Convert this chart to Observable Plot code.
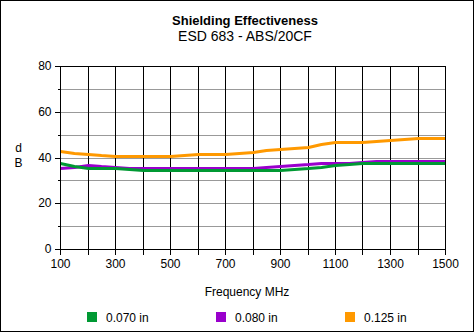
<!DOCTYPE html>
<html><head><meta charset="utf-8">
<script src="https://cdn.jsdelivr.net/npm/d3@7"></script>
<script src="https://cdn.jsdelivr.net/npm/@observablehq/plot@0.6"></script>
<style>
body{margin:0;background:#fff;}
#chart{position:relative;width:475px;height:333px;}
</style></head><body><div id="chart"></div>
<script>
const freqs = [100,150,200,250,300,350,400,450,500,550,600,650,700,750,800,850,900,950,1000,1050,1100,1150,1200,1250,1300,1350,1400,1450,1500];
const se070 = [37.5,36.5,35.6,35.3,35.2,34.8,34.4,34.4,34.4,34.4,34.4,34.4,34.4,34.4,34.4,34.4,34.4,34.8,35.3,35.9,36.6,37.0,37.5,37.5,37.5,37.5,37.5,37.5,37.5];
const se080 = [35.3,35.8,36.7,36.3,35.8,35.3,35.3,35.3,35.3,35.3,35.3,35.3,35.3,35.3,35.3,35.8,36.4,36.9,37.3,37.6,37.6,37.6,38.0,38.5,38.5,38.5,38.5,38.5,38.5];
const se125 = [42.7,42.0,41.5,41.0,40.7,40.7,40.7,40.7,40.7,41.0,41.4,41.4,41.4,41.8,42.4,43.1,43.6,44.1,44.7,45.8,46.6,46.6,46.8,47.3,47.7,48.2,48.5,48.5,48.5];
const seriesNames = ["0.070 in","0.080 in","0.125 in"];
const seriesColors = ["#009933","#9900cc","#ff9900"];
const yTickLabels = [0,20,40,60,80];
const yMinorTicks = [10,30,50,70];
const yGrid = [10,20,30,40,50,60,70];
const xTicksAll = [100,200,300,400,500,600,700,800,900,1000,1100,1200,1300,1400,1500];
const xTickLabels = [100,300,500,700,900,1100,1300,1500];
const xGrid = [200,300,400,500,600,700,800,900,1000,1100,1200,1300,1400];
const titleText = "Shielding Effectiveness";
const subtitleText = "ESD 683 - ABS/20CF";
const xLabelText = "Frequency MHz";
const yLabelChars = ["d","B"];

const seriesValues = [se070, se080, se125];
const rows = [];
seriesValues.forEach((vals, s) => vals.forEach((v, i) => rows.push({series: seriesNames[s], f: freqs[i], v})));
const drawOrder = [2, 1, 0];

const font = "Arial, 'Liberation Sans', sans-serif";
const chart = Plot.plot({
  width: 475, height: 333,
  marginLeft: 60, marginRight: 30, marginTop: 66, marginBottom: 84,
  x: {domain: [100, 1500], round: true},
  y: {domain: [0, 80], round: true},
  style: {fontFamily: font, fontSize: "12px", background: "white", color: "black", overflow: "visible"},
  marks: [
    Plot.ruleY(yGrid, {stroke: "#999999", strokeWidth: 1}),
    Plot.ruleX(xGrid, {stroke: "black", strokeWidth: 1}),
    ...drawOrder.map(s => Plot.line(rows.filter(r => r.series === seriesNames[s]), {x: "f", y: "v", stroke: seriesColors[s], strokeWidth: 3, strokeLinejoin: "miter", strokeLinecap: "butt"})),
    Plot.frame({stroke: "black", strokeWidth: 1}),
    Plot.axisY({ticks: yTickLabels, tickSize: 5, tickPadding: 4, label: null, fontSize: 12, stroke: "black"}),
    Plot.axisY({ticks: yMinorTicks, tickSize: 2, tickFormat: () => "", label: null, stroke: "black"}),
    Plot.axisX({ticks: xTicksAll, tickSize: 6, tickPadding: 4, label: null, fontSize: 12, stroke: "black",
      tickFormat: d => xTickLabels.includes(d) ? String(d) : ""})
  ]
});
document.getElementById("chart").appendChild(chart);

const svg = d3.select(chart);
svg.append("rect").attr("x", 0.5).attr("y", 0.5).attr("width", 473).attr("height", 331)
  .attr("fill", "none").attr("stroke", "black");
svg.append("text").attr("x", 245).attr("y", 25).attr("text-anchor", "middle")
  .style("font", `bold 13px ${font}`).attr("fill", "black").text(titleText);
svg.append("text").attr("x", 245).attr("y", 41).attr("text-anchor", "middle")
  .style("font", `14px ${font}`).attr("fill", "black").text(subtitleText);
svg.append("text").attr("x", 247).attr("y", 296).attr("text-anchor", "middle")
  .style("font", `12px ${font}`).attr("fill", "black").text(xLabelText);
yLabelChars.forEach((c, i) => {
  svg.append("text").attr("x", 18.5).attr("y", 151.7 + i * 15).attr("text-anchor", "middle")
    .style("font", `12px ${font}`).attr("fill", "black").text(c);
});
const legendX = [87, 216, 345];
seriesNames.forEach((name, i) => {
  svg.append("rect").attr("x", legendX[i]).attr("y", 312).attr("width", 10).attr("height", 10)
    .attr("fill", seriesColors[i]);
  svg.append("text").attr("x", legendX[i] + 19).attr("y", 321.7).attr("text-anchor", "start")
    .style("font", `12px ${font}`).attr("fill", "black").text(name);
});
</script></body></html>
